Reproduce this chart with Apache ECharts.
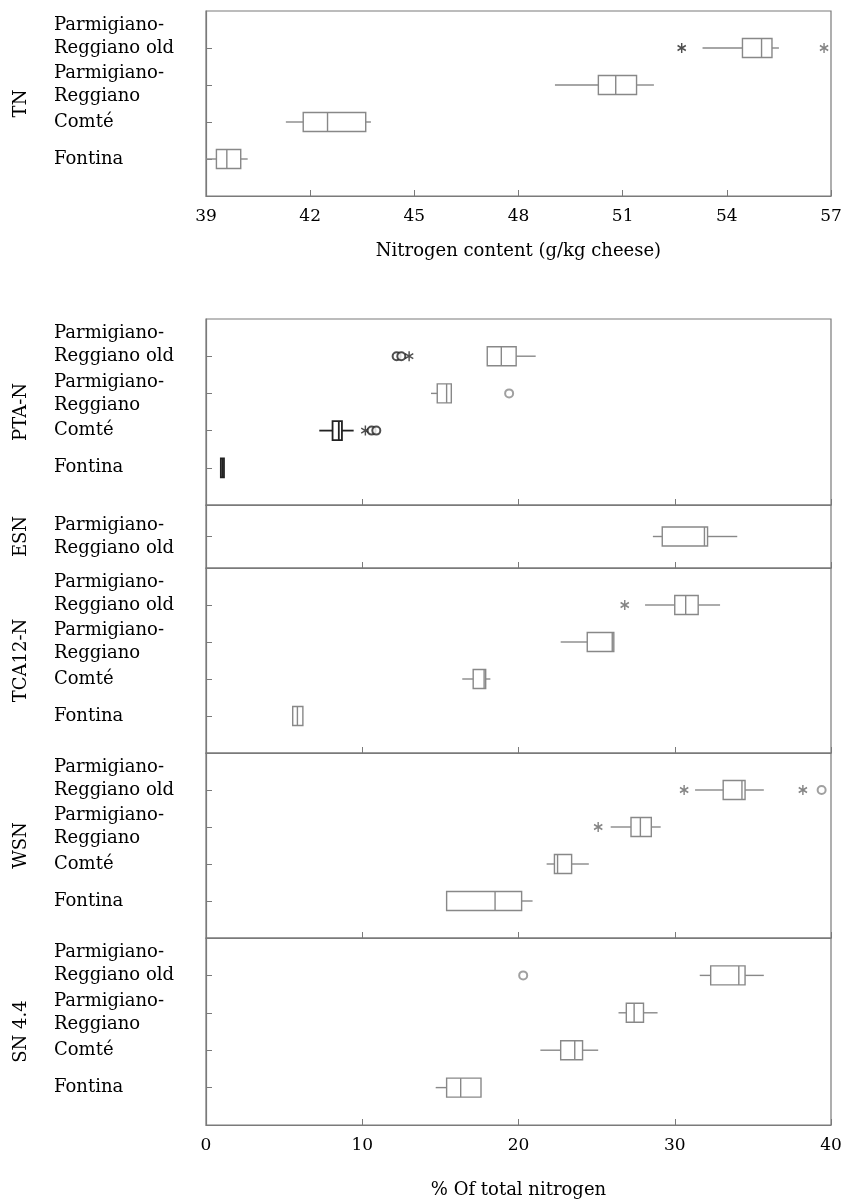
<!DOCTYPE html>
<html>
<head>
<meta charset="utf-8">
<script src="https://cdn.jsdelivr.net/npm/echarts@6/dist/echarts.min.js"></script>
<style>
  html, body { margin: 0; padding: 0; background: #fff; }
  #chart { width: 842px; height: 1199px; }
</style>
</head>
<body>
<div id="chart"></div>
<script>
// cheeses, bottom to top
const cheeses = ['Fontina', 'Comté', 'Parmigiano-\nReggiano', 'Parmigiano-\nReggiano old']

// boxes: [min, q1, median, q3, max], same order as cheeses
const tnBox = [[39.0, 39.3, 39.6, 40.0, 40.2], [41.3, 41.8, 42.5, 43.6, 43.75], [49.05, 50.3, 50.8, 51.4, 51.9], [53.3, 54.45, 55.0, 55.3, 55.5]]
const tnStars = [[52.7, 3], [56.8, 3]]
const tnCircles = []

const ptaBox = [[0.95, 0.95, 1.05, 1.15, 1.15], [7.25, 8.1, 8.5, 8.7, 9.45], [14.4, 14.8, 15.4, 15.7, 15.7], [18.0, 18.0, 18.9, 19.85, 21.1]]
const ptaStars = [[10.2, 1], [13.0, 3]]
const ptaCircles = [[10.6, 1], [10.9, 1], [12.2, 3], [12.5, 3], [19.4, 2]]

const esnCats = ['Parmigiano-\nReggiano old']
const esnBox = [[28.6, 29.2, 31.9, 32.1, 34.0]]

const tcaBox = [[5.55, 5.55, 5.85, 6.2, 6.2], [16.4, 17.1, 17.8, 17.9, 18.2], [22.7, 24.4, 26.0, 26.1, 26.1], [28.1, 30.0, 30.7, 31.5, 32.9]]
const tcaStars = [[26.8, 3]]
const tcaCircles = []

const wsnBox = [[15.4, 15.4, 18.5, 20.2, 20.9], [21.8, 22.3, 22.5, 23.4, 24.5], [25.9, 27.2, 27.8, 28.5, 29.1], [31.3, 33.1, 34.3, 34.5, 35.7]]
const wsnStars = [[25.1, 2], [30.6, 3], [38.2, 3]]
const wsnCircles = [[39.4, 3]]

const snBox = [[14.7, 15.4, 16.3, 17.6, 17.6], [21.4, 22.7, 23.6, 24.1, 25.1], [26.4, 26.9, 27.4, 28.0, 28.9], [31.6, 32.3, 34.1, 34.5, 35.7]]
const snStars = []
const snCircles = [[20.3, 3]]

const tnTicks = [39, 57, 3]
const pctTicks = [0, 40, 10]

const FONT = 'DejaVu Serif'
const GRAY = '#888'
const DARK = '#222'
const FRAME = '#7a7a7a'
const INK = '#000'

// rows drawn in dark ink (PTA-N: Fontina, Comté)
const darkRows = { 1: [0, 1] }

function asterisk () {
  const L = 10, w = 1.5
  let p = ''
  ;[90, 30, 150].forEach(a => {
    const t = a * Math.PI / 180
    const dx = Math.cos(t) * L / 2, dy = Math.sin(t) * L / 2
    const nx = -Math.sin(t) * w / 2, ny = Math.cos(t) * w / 2
    const pts = [[dx + nx, dy + ny], [dx - nx, dy - ny], [-dx - nx, -dy - ny], [-dx + nx, -dy + ny]]
    p += 'M' + pts.map(q => q[0].toFixed(2) + ',' + q[1].toFixed(2)).join('L') + 'Z'
  })
  return 'path://' + p
}
const STAR = asterisk()

// pad the category axis with empty slots so ticks sit like the original
function padCats (cats) {
  return [''].concat(cats, [''])
}

function makeRender (panel) {
  return function (params, api) {
    const cat = api.value(0)
    const lo = api.coord([api.value(1), cat])
    const q1 = api.coord([api.value(2), cat])
    const md = api.coord([api.value(3), cat])
    const q3 = api.coord([api.value(4), cat])
    const hi = api.coord([api.value(5), cat])
    const half = 9.5
    const dark = (darkRows[panel] || []).indexOf(cat - 1) >= 0
    const color = dark ? DARK : GRAY
    const lw = dark ? 1.8 : 1.4
    return {
      type: 'group',
      children: [
        { type: 'line', shape: { x1: lo[0], y1: lo[1], x2: q1[0], y2: q1[1] }, style: { stroke: color, lineWidth: lw } },
        { type: 'line', shape: { x1: q3[0], y1: q3[1], x2: hi[0], y2: hi[1] }, style: { stroke: color, lineWidth: lw } },
        { type: 'rect', shape: { x: q1[0], y: q1[1] - half, width: Math.max(q3[0] - q1[0], 1), height: half * 2 }, style: { fill: dark ? 'rgba(0,0,0,0)' : '#fff', stroke: color, lineWidth: lw } },
        { type: 'line', shape: { x1: md[0], y1: md[1] - half, x2: md[0], y2: md[1] + half }, style: { stroke: color, lineWidth: lw } }
      ]
    }
  }
}

const panels = [
  { name: 'TN', cats: cheeses, box: tnBox, stars: tnStars, circles: tnCircles, top: 11, height: 185 },
  { name: 'PTA-N', cats: cheeses, box: ptaBox, stars: ptaStars, circles: ptaCircles, top: 319, height: 186 },
  { name: 'ESN', cats: esnCats, box: esnBox, stars: [], circles: [], top: 505, height: 63 },
  { name: 'TCA12-N', cats: cheeses, box: tcaBox, stars: tcaStars, circles: tcaCircles, top: 568, height: 185 },
  { name: 'WSN', cats: cheeses, box: wsnBox, stars: wsnStars, circles: wsnCircles, top: 753, height: 185 },
  { name: 'SN 4.4', cats: cheeses, box: snBox, stars: snStars, circles: snCircles, top: 938, height: 187 }
]

const grid = [], xAxis = [], yAxis = [], series = []
panels.forEach((p, i) => {
  grid.push({ left: 206, width: 625, top: p.top, height: p.height, outerBoundsMode: 'none', containLabel: false, show: true, borderColor: FRAME, borderWidth: 1.2, backgroundColor: 'transparent' })
  const ticks = i === 0 ? tnTicks : pctTicks
  const last = i === panels.length - 1
  const single = p.cats.length === 1
  xAxis.push({
    type: 'value',
    gridIndex: i,
    min: ticks[0],
    max: ticks[1],
    interval: ticks[2],
    splitLine: { show: false },
    axisLine: { show: true, lineStyle: { color: FRAME, width: 1.2 } },
    axisTick: { show: true, inside: true, length: 6, lineStyle: { color: FRAME } },
    axisLabel: { show: i === 0 || last, margin: 12, color: INK, fontFamily: FONT, fontSize: 17 },
    name: i === 0 ? 'Nitrogen content (g/kg cheese)' : (last ? '% Of total nitrogen' : ''),
    nameLocation: 'middle',
    nameGap: i === 0 ? 46 : 56,
    nameTextStyle: { color: INK, fontFamily: FONT, fontSize: 18 }
  })
  yAxis.push({
    type: 'category',
    gridIndex: i,
    data: padCats(p.cats),
    boundaryGap: false,
    axisLine: { show: true, lineStyle: { color: FRAME, width: 1.2 } },
    axisTick: { show: true, inside: true, length: 6, lineStyle: { color: FRAME }, interval: (idx, v) => v !== '' },
    axisLabel: {
      show: true,
      interval: 0,
      align: 'left',
      margin: 152,
      color: INK,
      fontFamily: FONT,
      fontSize: 18,
      lineHeight: 23,
      formatter: v => (!single && v.indexOf('old') >= 0) ? v + '\n ' : v
    },
    name: p.name,
    nameLocation: 'middle',
    nameGap: 176,
    nameTextStyle: { color: INK, fontFamily: FONT, fontSize: 18 }
  })
  series.push({
    type: 'custom',
    xAxisIndex: i,
    yAxisIndex: i,
    renderItem: makeRender(i),
    encode: { x: [1, 2, 3, 4, 5], y: 0 },
    data: p.box.map((b, k) => [k + 1].concat(b)),
    z: 3
  })
  series.push({
    type: 'scatter',
    xAxisIndex: i,
    yAxisIndex: i,
    symbol: STAR,
    symbolSize: [9, 10],
    data: p.stars.map(s => ({ value: [s[0], s[1] + 1], itemStyle: { color: (i === 1 || (i === 0 && s[0] < 54)) ? DARK : '#666' } })),
    z: 4
  })
  series.push({
    type: 'scatter',
    xAxisIndex: i,
    yAxisIndex: i,
    symbol: 'emptyCircle',
    symbolSize: 8,
    data: p.circles.map(c => ({ value: [c[0], c[1] + 1], itemStyle: { color: (i === 1 && c[1] !== 2) ? DARK : GRAY, borderWidth: 1.4 } })),
    z: 4
  })
})

const chart = echarts.init(document.getElementById('chart'), null, { renderer: 'canvas' })
chart.setOption({
  animation: false,
  backgroundColor: '#fff',
  grid: grid,
  xAxis: xAxis,
  yAxis: yAxis,
  series: series
})
</script>
</body>
</html>
